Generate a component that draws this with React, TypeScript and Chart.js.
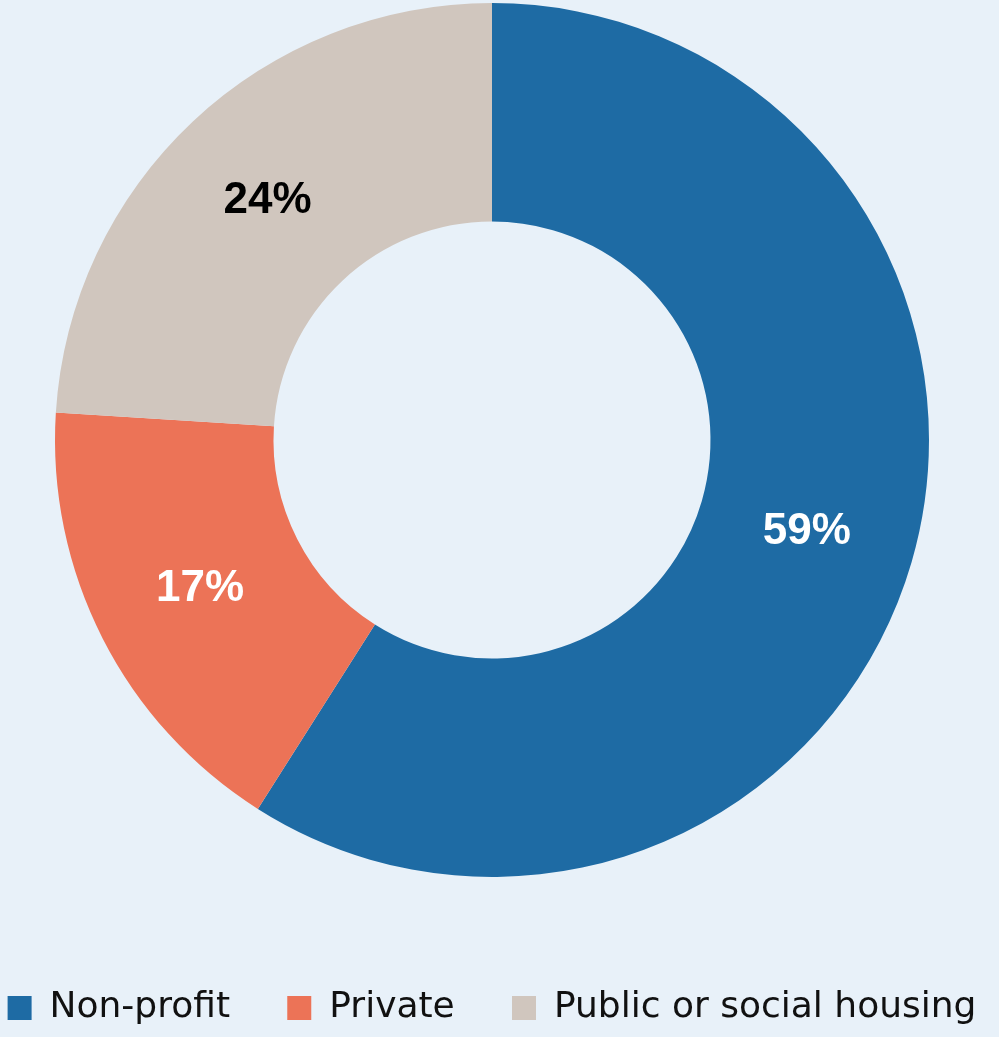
import React, { useEffect, useRef } from "react";
import { Chart, registerables } from "chart.js";

Chart.register(...registerables);

const categories = ["Non-profit", "Private", "Public or social housing"];
const shares = [59, 17, 24];
const colors = ["#1E6BA4", "#EC7357", "#D0C6BE"];
const labelColors = ["#FFFFFF", "#FFFFFF", "#000000"];
const BG = "#E8F1F9";

const valueLabels = {
  id: "valueLabels",
  afterDatasetsDraw(chart: any) {
    const ctx = chart.ctx;
    const meta = chart.getDatasetMeta(0);
    ctx.save();
    ctx.font = "bold 44px 'Liberation Sans', Arial, sans-serif";
    ctx.textAlign = "center";
    ctx.textBaseline = "middle";
    meta.data.forEach((arc: any, i: number) => {
      const p = arc.tooltipPosition(false);
      ctx.fillStyle = labelColors[i];
      ctx.fillText(shares[i] + "%", p.x, p.y);
    });
    ctx.restore();
  },
};

export default function App() {
  const ref = useRef<HTMLCanvasElement | null>(null);
  useEffect(() => {
    document.body.style.margin = "0";
    document.body.style.background = BG;
    const chart = new Chart(ref.current as HTMLCanvasElement, {
      type: "doughnut",
      data: {
        labels: categories,
        datasets: [
          {
            data: shares,
            backgroundColor: colors,
            borderWidth: 0,
          },
        ],
      },
      options: {
        responsive: false,
        animation: false,
        cutout: "50%",
        layout: { padding: { top: 3, right: 15, bottom: 1, left: 0 } },
        plugins: {
          tooltip: { enabled: false },
          legend: {
            position: "bottom",
            align: "center",
            title: {
              display: true,
              text: "",
              font: { size: 1, lineHeight: 1 },
              padding: { top: 112, bottom: 0 },
            },
            labels: {
              boxWidth: 24,
              boxHeight: 24,
              padding: 0,
              color: "#111111",
              font: { family: "'DejaVu Sans', sans-serif", size: 36 },
              generateLabels() {
                return categories.map((c, i) => ({
                  text: i < categories.length - 1 ? c + "     " : c,
                  fillStyle: colors[i],
                  strokeStyle: colors[i],
                  fontColor: "#111111",
                  lineWidth: 0,
                  hidden: false,
                  index: i,
                  datasetIndex: 0,
                }));
              },
            },
          },
        },
      },
      plugins: [valueLabels],
    });
    return () => chart.destroy();
  }, []);
  return (
    <div style={{ width: 999, height: 1037, background: BG }}>
      <canvas ref={ref} width={999} height={1037} />
    </div>
  );
}
